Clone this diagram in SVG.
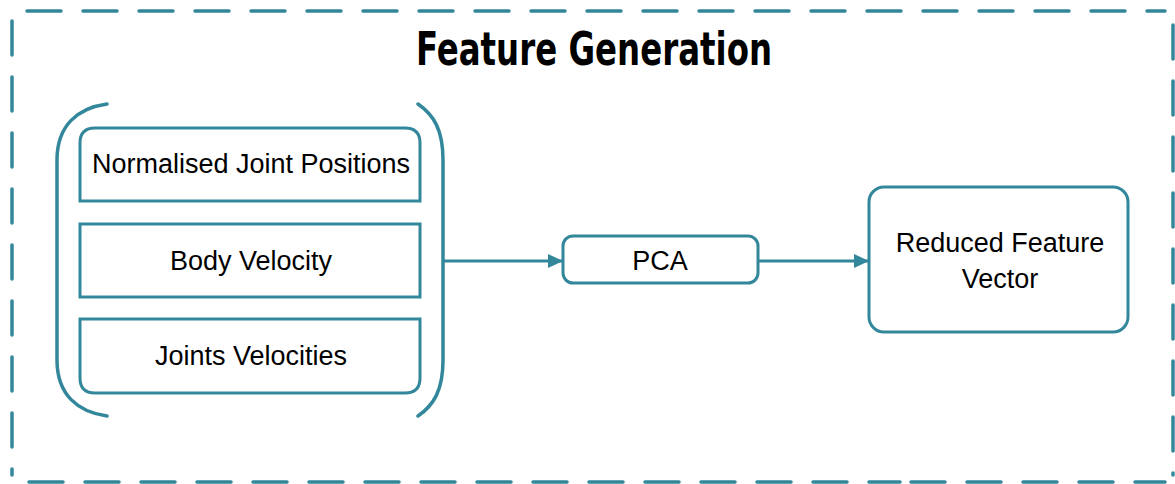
<svg xmlns="http://www.w3.org/2000/svg" width="1175" height="484" viewBox="0 0 1175 484">
  <style>
    .frame { fill: none; stroke: #33879b; stroke-width: 3.5; stroke-linecap: round; stroke-dasharray: 34 22; }
    .box { fill: #ffffff; stroke: #33879b; stroke-width: 3; }
    .brace { fill: none; stroke: #33879b; stroke-width: 3.5; stroke-linecap: round; }
    .link { fill: none; stroke: #33879b; stroke-width: 3; }
    .label { font-family: "Liberation Sans", Arial, sans-serif; font-size: 27px; fill: #000000; text-anchor: middle; }
    .title { font-family: "DejaVu Sans Condensed", "DejaVu Sans", sans-serif; font-weight: bold; font-size: 46px; fill: #000000; text-anchor: middle; }
  </style>
  <defs>
    <marker id="arrow" markerWidth="16" markerHeight="14" refX="15" refY="7" orient="auto" markerUnits="userSpaceOnUse">
      <path d="M0,0 L15,7 L0,14 Z" fill="#33879b"/>
    </marker>
  </defs>

  <rect width="1175" height="484" fill="#ffffff"/>

  <!-- dashed outer frame -->
  <g id="frame">
    <line class="frame" x1="27" y1="11" x2="1165" y2="11"/>
    <line class="frame" x1="12" y1="21" x2="12" y2="475"/>
    <line class="frame" x1="911" y1="482" x2="1165" y2="482"/>
    <line class="frame" x1="27" y1="482" x2="900" y2="482" stroke-dashoffset="-2"/>
    <line class="frame" x1="1173" y1="20" x2="1173" y2="475" stroke-dashoffset="-5"/>
  </g>

  <text id="title" class="title" x="594" y="65" textLength="356" lengthAdjust="spacingAndGlyphs">Feature Generation</text>

  <!-- grouped inputs with enclosing brackets -->
  <g id="inputs">
    <path class="brace" d="M107,104 C78,108 57,125 57,160 L57,360 C57,395 78,412 107,416"/>
    <path class="brace" d="M418,104 C434,115 443,130 443,160 L443,360 C443,390 434,405 418,416"/>
  </g>

  <g id="node-positions">
    <path class="box" d="M80,201 L80,143 Q80,128 95,128 L405,128 Q420,128 420,143 L420,201 Z"/>
    <text class="label" x="251" y="173">Normalised Joint Positions</text>
  </g>

  <g id="node-body-velocity">
    <rect class="box" x="80" y="224" width="340" height="73"/>
    <text class="label" x="251" y="270">Body Velocity</text>
  </g>

  <g id="node-joint-velocities">
    <path class="box" d="M80,319 L420,319 L420,378 Q420,393 405,393 L95,393 Q80,393 80,378 Z"/>
    <text class="label" x="251" y="365">Joints Velocities</text>
  </g>

  <g id="node-pca">
    <rect class="box" x="563" y="236" width="195" height="47" rx="10"/>
    <text class="label" x="660" y="270">PCA</text>
  </g>

  <g id="node-reduced">
    <rect class="box" x="869" y="187" width="259" height="145" rx="15"/>
    <text class="label" x="1000" y="252">Reduced Feature</text>
    <text class="label" x="1000" y="288">Vector</text>
  </g>

  <!-- connectors -->
  <g id="connectors">
    <line class="link" x1="443" y1="261" x2="563" y2="261" marker-end="url(#arrow)"/>
    <line class="link" x1="758" y1="261" x2="869" y2="261" marker-end="url(#arrow)"/>
  </g>
</svg>
